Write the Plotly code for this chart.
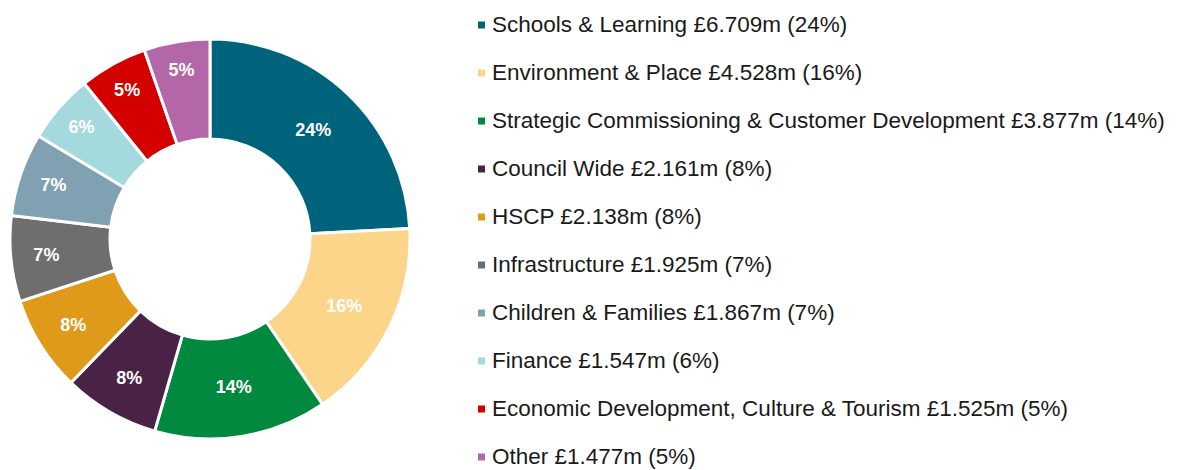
import plotly.graph_objects as go

categories = ["Schools & Learning", "Environment & Place",
              "Strategic Commissioning & Customer Development", "Council Wide", "HSCP",
              "Infrastructure", "Children & Families", "Finance",
              "Economic Development, Culture & Tourism", "Other"]
values = [6.709, 4.528, 3.877, 2.161, 2.138, 1.925, 1.867, 1.547, 1.525, 1.477]
colors = ["#00637C", "#FCD48A", "#00893F", "#4A2245", "#DE9A18",
          "#6E6E6E", "#80A1B1", "#A4D9DD", "#D40000", "#B366A8"]

# page has an 8px body margin; figure occupies page pixels 8..1178 x 8..470
OFF = 8
W, H = 1178 - OFF, 470 - OFF


def px(x):
    return (x - OFF) / W


def py(y):
    return 1 - (y - OFF) / H


total = sum(values)
pcts = [round(v / total * 100) for v in values]

fig = go.Figure()
fig.add_trace(go.Pie(
    labels=categories, values=values, sort=False, direction="clockwise", rotation=0,
    hole=0.5, marker=dict(colors=colors, line=dict(color="white", width=3)),
    texttemplate="<b>%{percent:.0%}</b>", textposition="inside",
    insidetextorientation="horizontal",
    textfont=dict(family="Liberation Sans, Arial, sans-serif", size=18, color="white"),
    domain=dict(x=[px(10), px(410)], y=[py(439), py(39)]),
    showlegend=False, hoverinfo="label+value+percent",
))

y0, step = 25, 48.0
shapes, annotations = [], []
for i, (c, v, p, col) in enumerate(zip(categories, values, pcts, colors)):
    yc = y0 + i * step
    shapes.append(dict(type="rect", xref="paper", yref="paper",
                       x0=px(478), x1=px(485), y0=py(yc + 3.5), y1=py(yc - 3.5),
                       fillcolor=col, line=dict(width=0)))
    annotations.append(dict(xref="paper", yref="paper", x=px(491), y=py(yc - 0.5),
                            xanchor="left", yanchor="middle", showarrow=False,
                            borderpad=0,
                            text=f"{c} £{v:.3f}m ({p}%)",
                            font=dict(family="Liberation Sans, Arial, sans-serif", size=22.5,
                                      color="#1a1a1a")))

fig.update_layout(width=W, height=H, margin=dict(l=0, r=0, t=0, b=0),
                  paper_bgcolor="white", plot_bgcolor="white",
                  shapes=shapes, annotations=annotations)
fig.write_html("out.html")
